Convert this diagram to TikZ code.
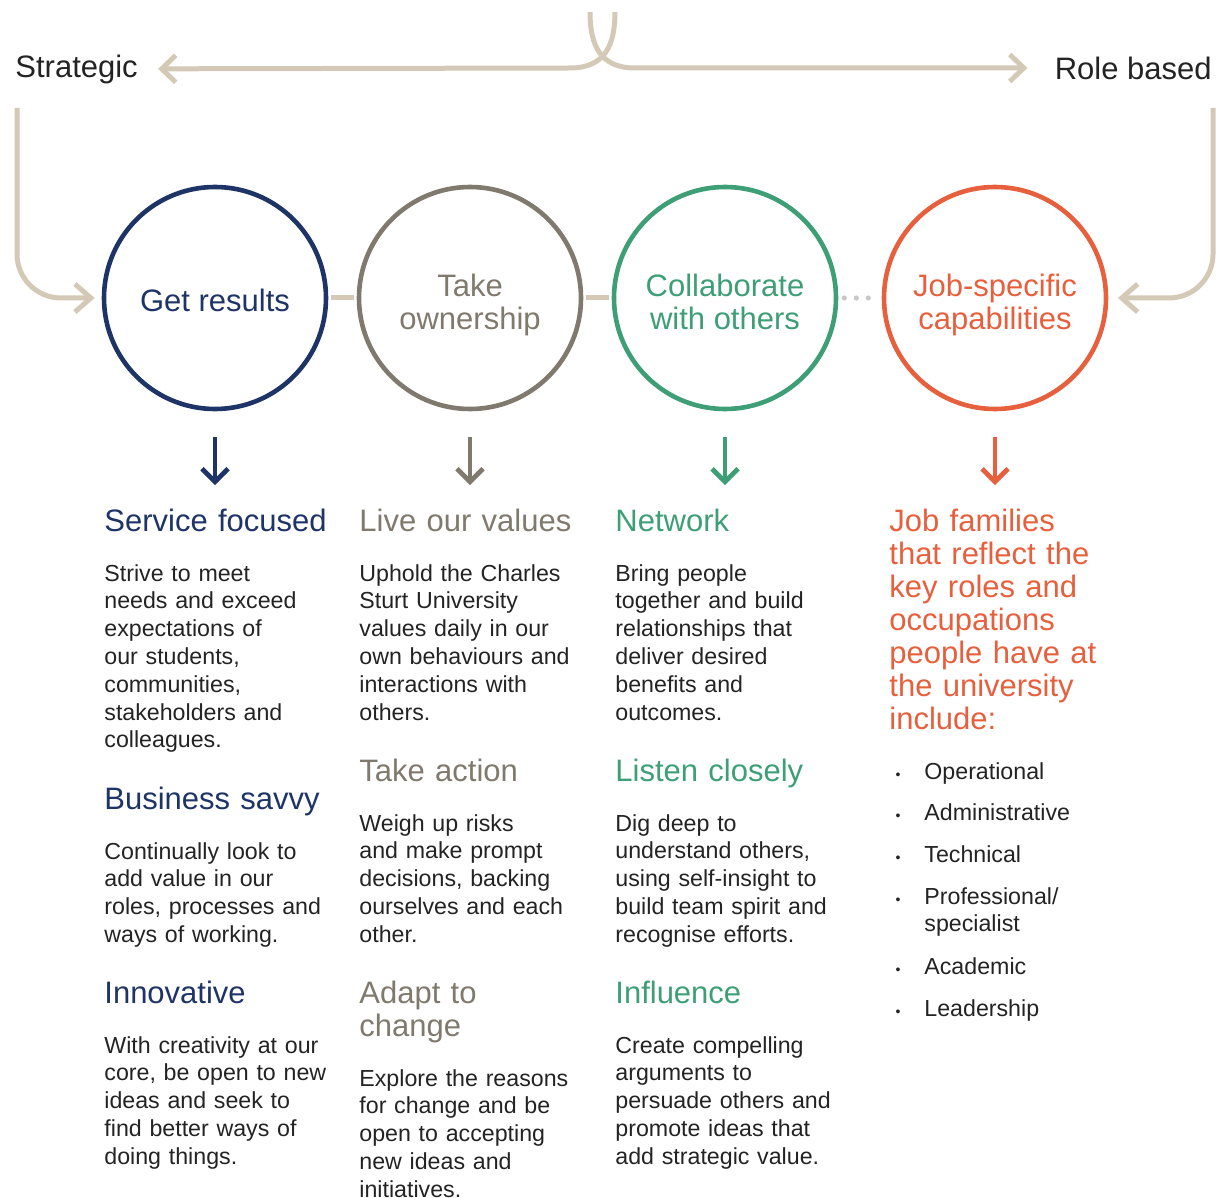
\documentclass[tikz,border=0pt]{standalone}
\usepackage{fontspec}
\setmainfont{Liberation Sans}
\usepackage{xcolor}
\usepackage{tikz}
\usetikzlibrary{arrows.meta, positioning}
\definecolor{navy}{RGB}{31,52,102}
\definecolor{stone}{RGB}{128,121,109}
\definecolor{leaf}{RGB}{62,158,118}
\definecolor{coral}{RGB}{230,96,62}
\definecolor{tanline}{RGB}{212,200,182}
\definecolor{dotgrey}{RGB}{200,200,200}
\definecolor{ink}{RGB}{35,35,35}
\tikzstyle{capcircle} = [circle, minimum size=111pt, inner sep=0pt, line width=2.3pt, text depth=3pt, font=\fontsize{15.5}{16.5}\selectfont]
\tikzstyle{oneline}   = [capcircle, text height=17pt]
\tikzstyle{twoline}   = [capcircle, text height=34pt]
\tikzstyle{side}      = [inner sep=0pt, text=ink, font=\fontsize{15.5}{16.5}\selectfont]
\tikzstyle{heading}   = [anchor=base west, inner sep=0pt, text width=125pt, align=left, font=\fontsize{15.5}{16.5}\selectfont]
\tikzstyle{body}      = [anchor=base west, inner sep=0pt, text width=125pt, align=left, text=ink, font=\fontsize{11.6}{13.9}\selectfont]
\tikzstyle{item}      = [body, text width=100pt]
\tikzstyle{link}      = [line width=2.5pt, draw=tanline, shorten <=1.2pt, shorten >=1.2pt]
\tikzstyle{dotlink}   = [line width=2.6pt, draw=dotgrey, line cap=round, dash pattern=on 0pt off 6pt, shorten <=3pt, shorten >=3pt]
\tikzstyle{sweep}     = [line width=2.5pt, draw=tanline, rounded corners=22pt, -{Straight Barb[length=8pt,width=14pt]}]
\tikzstyle{fork}      = [line width=2.5pt, draw=tanline, -{Straight Barb[length=7pt,width=13.5pt]}]
\tikzstyle{downarrow} = [line width=2.4pt, -{Straight Barb[length=6.5pt,width=13pt]}, shorten <=13pt, shorten >=11.5pt]
\tikzset{every node/.style={align=center}}
\newcommand{\bul}{\llap{{\fontsize{7}{7}\selectfont\textbullet}\hspace{12pt}}}

\begin{document}
\begin{tikzpicture}[x=0.5pt, y=0.5pt]
    \useasboundingbox (0,0) rectangle (1221,-1198);

    % top labels and the forked arrow
    \node (strat) at (15,-69)   [side, anchor=west] {Strategic};
    \node (role)  at (1212,-68) [side, anchor=east] {Role based};
    \coordinate (forkl) at (590,-12);
    \coordinate (forkr) at (615,-12);
    \coordinate (sidel) at (17,-108);
    \coordinate (sider) at (1213,-108);

    % capability circles
    \node (c1) at (215,-298) [oneline, draw=navy,  text=navy]  {Get results};
    \node (c2) at (470,-298) [twoline, draw=stone, text=stone] {Take\\ownership};
    \node (c3) at (725,-298) [twoline, draw=leaf,  text=leaf]  {Collaborate\\with others};
    \node (c4) at (995,-298) [twoline, draw=coral, text=coral] {Job-specific\\capabilities};

    % column 1
    \node (sf)  at (104,-531)  [heading, text=navy] {Service focused};
    \node (sft) at (104,-581)  [body] {Strive to meet\\needs and exceed\\expectations of\\our students,\\communities,\\stakeholders and\\colleagues.};
    \node (bs)  at (104,-809)  [heading, text=navy] {Business savvy};
    \node (bst) at (104,-859)  [body] {Continually look to\\add value in our\\roles, processes and\\ways of working.};
    \node (inn) at (104,-1003) [heading, text=navy] {Innovative};
    \node (int) at (104,-1053) [body] {With creativity at our\\core, be open to new\\ideas and seek to\\find better ways of\\doing things.};

    % column 2
    \node (lv)  at (359,-531)  [heading, text=stone] {Live our values};
    \node (lvt) at (359,-581)  [body] {Uphold the Charles\\Sturt University\\values daily in our\\own behaviours and\\interactions with\\others.};
    \node (ta)  at (359,-781)  [heading, text=stone] {Take action};
    \node (tat) at (359,-831)  [body] {Weigh up risks\\and make prompt\\decisions, backing\\ourselves and each\\other.};
    \node (ad)  at (359,-1003) [heading, text=stone] {Adapt to\\change};
    \node (adt) at (359,-1086) [body] {Explore the reasons\\for change and be\\open to accepting\\new ideas and\\initiatives.};

    % column 3
    \node (nw)  at (615,-531)  [heading, text=leaf] {Network};
    \node (nwt) at (615,-581)  [body] {Bring people\\together and build\\relationships that\\deliver desired\\benefits and\\outcomes.};
    \node (lc)  at (615,-781)  [heading, text=leaf] {Listen closely};
    \node (lct) at (615,-831)  [body] {Dig deep to\\understand others,\\using self-insight to\\build team spirit and\\recognise efforts.};
    \node (inf) at (615,-1003) [heading, text=leaf] {Influence};
    \node (ift) at (615,-1053) [body] {Create compelling\\arguments to\\persuade others and\\promote ideas that\\add strategic value.};

    % column 4
    \node (jf)  at (889,-531)  [heading, text=coral] {Job families\\that reflect the\\key roles and\\occupations\\people have at\\the university\\include:};
    \node (op)  at (924,-779)  [item] {\bul Operational};
    \node (adm) at (924,-820)  [item] {\bul Administrative};
    \node (tec) at (924,-862)  [item] {\bul Technical};
    \node (pro) at (924,-904)  [item] {\bul Professional/\\specialist};
    \node (aca) at (924,-974)  [item] {\bul Academic};
    \node (lea) at (924,-1016) [item] {\bul Leadership};

    % connectors
    \draw [fork, shorten >=10pt]   (forkr) .. controls (615,-45) and (605,-68) .. (570,-68) -- (strat);
    \draw [fork, shorten >=13.5pt] (forkl) .. controls (590,-45) and (600,-68) .. (635,-68) -- (role);
    \draw [sweep, shorten >=3.5pt] (sidel) |- (c1.west);
    \draw [sweep, shorten >=4.8pt] (sider) |- (c4.east);
    \draw [link]    (c1.east) -- (c2.west);
    \draw [link]    (c2.east) -- (c3.west);
    \draw [dotlink] (c3.east) -- (c4.west);
    \draw [downarrow, navy]  (c1.south) -- (c1.south |- sf.north);
    \draw [downarrow, stone] (c2.south) -- (c2.south |- lv.north);
    \draw [downarrow, leaf]  (c3.south) -- (c3.south |- nw.north);
    \draw [downarrow, coral] (c4.south) -- (c4.south |- jf.north);
\end{tikzpicture}
\end{document}
